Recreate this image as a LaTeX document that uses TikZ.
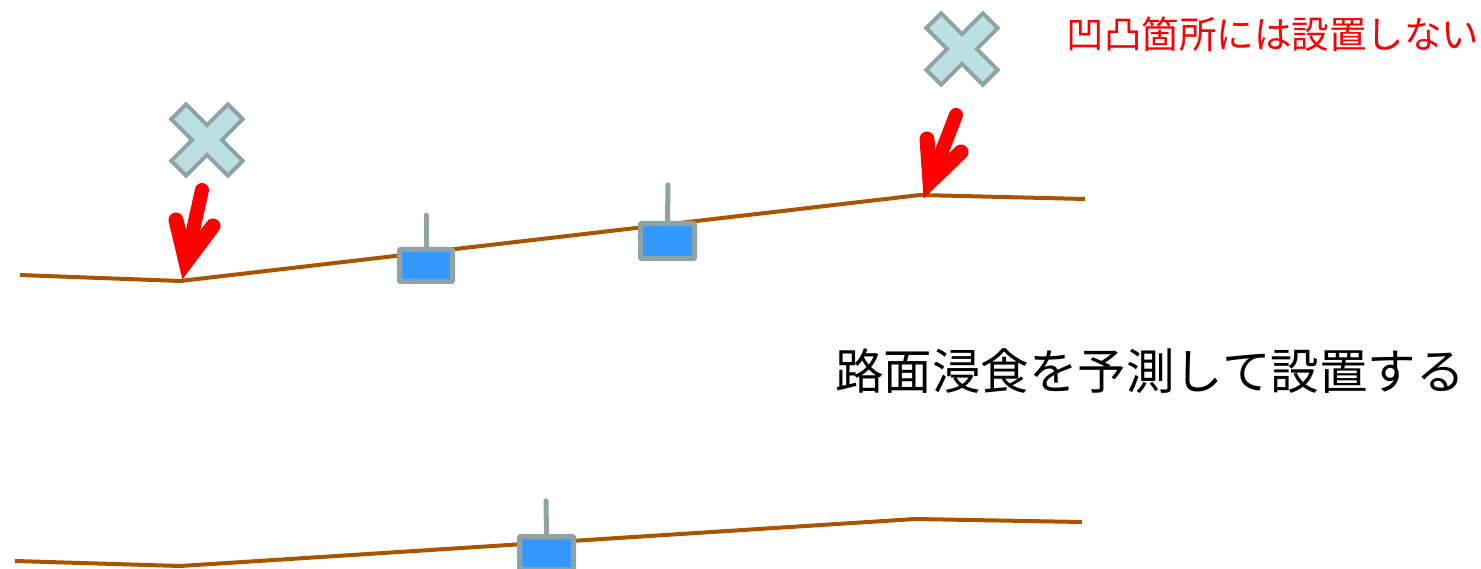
\documentclass[tikz,border=0pt]{standalone}
\usepackage{fontspec}
\newfontfamily\jp{Noto Sans CJK JP}
\definecolor{ground}{HTML}{A95500}
\definecolor{edge}{HTML}{8FA3A5}
\definecolor{boxfill}{HTML}{3399FF}
\definecolor{xfill}{HTML}{BDE0E3}
\definecolor{warn}{HTML}{FF0000}
\tikzset{
  groundline/.style={draw=ground,line width=4pt,line join=round},
  sensor/.style={draw=edge,fill=boxfill,line width=5pt,rectangle,inner sep=0pt,rounded corners=1pt},
  antenna/.style={draw=edge,line width=5pt,line cap=round},
  xmark/.style={draw=edge,fill=xfill,line width=4pt,line join=miter},
  shaft/.style={draw=warn,line width=14pt,line cap=round},
  arrowhead/.style={draw=warn,line width=15pt,line cap=round,line join=miter,miter limit=10},
}
\begin{document}
\begin{tikzpicture}[x=1pt,y=-1pt]
\useasboundingbox (0,0) rectangle (1481,569);
% ground lines
\draw[groundline] (20,275) -- (180,281) -- (920,195) -- (1085,199);
\draw[groundline] (15,561) -- (180,566) -- (915,519) -- (1082,522);
% sensors
\node[sensor,minimum width=53pt,minimum height=32pt] (s1) at (426,265.5) {};
\coordinate (a1) at (426,215);
\draw[antenna] (s1.north) -- (a1);
\node[sensor,minimum width=54pt,minimum height=35pt] (s2) at (667.5,241) {};
\coordinate (a2) at (668,185);
\draw[antenna] (s2.north) -- (a2);
\node[sensor,minimum width=54pt,minimum height=33pt] (s3) at (546.5,553) {};
\coordinate (a3) at (546,501);
\draw[antenna] (s3.north) -- (a3);
% X marks
\foreach \cx/\cy in {207/140, 962/49}{
  \begin{scope}[shift={(\cx,\cy)},rotate=45]
    \draw[xmark] (-10.5,-40) -- (10.5,-40) -- (10.5,-10.5) -- (40,-10.5) -- (40,10.5)
      -- (10.5,10.5) -- (10.5,40) -- (-10.5,40) -- (-10.5,10.5) -- (-40,10.5)
      -- (-40,-10.5) -- (-10.5,-10.5) -- cycle;
  \end{scope}
}
% red arrows
\coordinate (t1) at (202,190);
\coordinate (p1) at (186,262);
\coordinate (l1) at (176,220);
\coordinate (r1) at (213,226);
\draw[shaft] (t1) -- (p1);
\draw[arrowhead] (l1) -- (p1) -- (r1);
\coordinate (t2) at (956,115);
\coordinate (p2) at (930,182);
\coordinate (l2) at (927,139);
\coordinate (r2) at (961,152);
\draw[shaft] (t2) -- (p2);
\draw[arrowhead] (l2) -- (p2) -- (r2);
% texts
\node[text=warn,font=\jp\fontsize{37.5}{42}\selectfont,inner sep=0pt] (note) at (1273,34) {凹凸箇所には設置しない};
\node[text=black,font=\jp\fontsize{48.5}{54}\selectfont,inner sep=0pt] (main) at (1150,371) {路面浸食を予測して設置する};
\end{tikzpicture}
\end{document}
